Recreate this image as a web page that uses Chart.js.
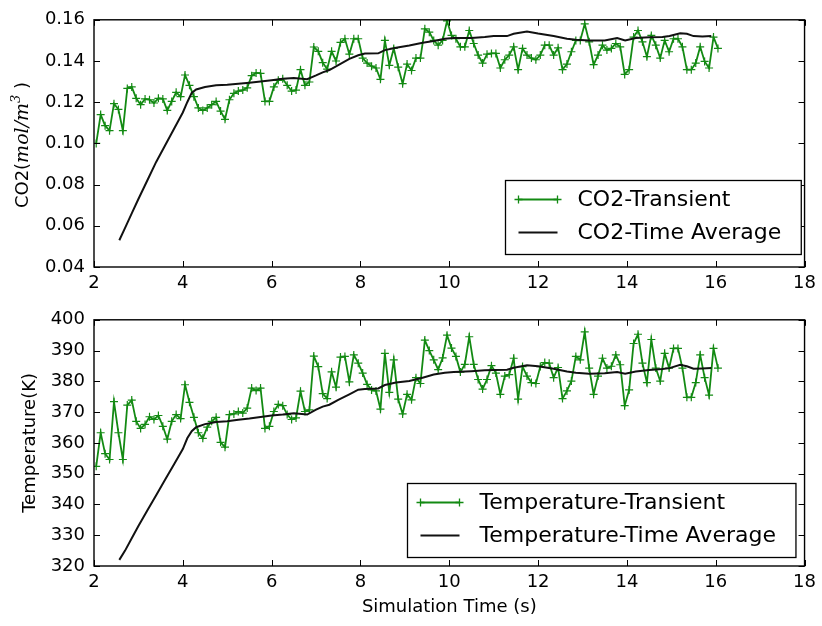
<!DOCTYPE html>
<html>
<head>
<meta charset="utf-8">
<script src="https://cdn.jsdelivr.net/npm/chart.js@4.4.1/dist/chart.umd.min.js"></script>
<style>
  html, body { margin: 0; padding: 0; background: #fff; }
  #wrap { position: relative; width: 822px; height: 626px; }
  canvas { position: absolute; left: 0; }
  #co2Chart  { top: 0; }
  #tempChart { top: 300px; }
</style>
</head>
<body>
<div id="wrap">
  <canvas id="co2Chart" width="822" height="300"></canvas>
  <canvas id="tempChart" width="822" height="326"></canvas>
</div>
<script>
// ── Data ─────────────────────────────────────────────────────
const times = [
  2.05, 2.15, 2.25, 2.35, 2.45, 2.55, 2.65, 2.75, 2.85, 2.95,
  3.05, 3.15, 3.25, 3.35, 3.45, 3.55, 3.65, 3.75, 3.85, 3.95,
  4.05, 4.15, 4.25, 4.35, 4.45, 4.55, 4.65, 4.75, 4.85, 4.95,
  5.05, 5.15, 5.25, 5.35, 5.45, 5.55, 5.65, 5.75, 5.85, 5.95,
  6.05, 6.15, 6.25, 6.35, 6.45, 6.55, 6.65, 6.75, 6.85, 6.95,
  7.05, 7.15, 7.25, 7.35, 7.45, 7.55, 7.65, 7.75, 7.85, 7.95,
  8.05, 8.15, 8.25, 8.35, 8.45, 8.55, 8.65, 8.75, 8.85, 8.95,
  9.05, 9.15, 9.25, 9.35, 9.45, 9.55, 9.65, 9.75, 9.85, 9.95,
  10.05, 10.15, 10.25, 10.35, 10.45, 10.55, 10.65, 10.75, 10.85, 10.95,
  11.05, 11.15, 11.25, 11.35, 11.45, 11.55, 11.65, 11.75, 11.85, 11.95,
  12.05, 12.15, 12.25, 12.35, 12.45, 12.55, 12.65, 12.75, 12.85, 12.95,
  13.05, 13.15, 13.25, 13.35, 13.45, 13.55, 13.65, 13.75, 13.85, 13.95,
  14.05, 14.15, 14.25, 14.35, 14.45, 14.55, 14.65, 14.75, 14.85, 14.95,
  15.05, 15.15, 15.25, 15.35, 15.45, 15.55, 15.65, 15.75, 15.85, 15.95,
  16.05
];

const co2Transient = [
  0.1000, 0.1140, 0.1086, 0.1062, 0.1193, 0.1165, 0.1062, 0.1267, 0.1274, 0.1219,
  0.1188, 0.1216, 0.1212, 0.1196, 0.1219, 0.1216, 0.1160, 0.1204, 0.1248, 0.1227,
  0.1332, 0.1282, 0.1227, 0.1172, 0.1160, 0.1172, 0.1188, 0.1204, 0.1157, 0.1117,
  0.1212, 0.1243, 0.1254, 0.1259, 0.1270, 0.1329, 0.1342, 0.1340, 0.1204, 0.1204,
  0.1274, 0.1306, 0.1314, 0.1282, 0.1254, 0.1259, 0.1358, 0.1282, 0.1298, 0.1468,
  0.1447, 0.1392, 0.1361, 0.1447, 0.1400, 0.1490,
  0.1508, 0.1433, 0.1508, 0.1508, 0.1414, 0.1390, 0.1375, 0.1366, 0.1311, 0.1500,
  0.1379, 0.1461, 0.1370, 0.1290, 0.1385, 0.1354, 0.1414, 0.1414, 0.1556, 0.1540,
  0.1500, 0.1477, 0.1500, 0.1595, 0.1524, 0.1508, 0.1469, 0.1469, 0.1548, 0.1485,
  0.1429, 0.1390, 0.1433, 0.1437, 0.1437, 0.1366, 0.1406, 0.1429, 0.1469, 0.1358,
  0.1461, 0.1429, 0.1414, 0.1406, 0.1429, 0.1477, 0.1477, 0.1429, 0.1464, 0.1358,
  0.1385, 0.1445, 0.1500,
  0.1500, 0.1580, 0.1493, 0.1382, 0.1429, 0.1477, 0.1453, 0.1461, 0.1485, 0.1469,
  0.1335, 0.1358, 0.1516, 0.1548, 0.1493, 0.1421, 0.1524, 0.1477, 0.1414, 0.1500,
  0.1445, 0.1508, 0.1508, 0.1469, 0.1358, 0.1358, 0.1390, 0.1469, 0.1398, 0.1366,
  0.1516, 0.1461
];

const tempTransient = [
  352.4, 363.3, 356.5, 354.6, 373.4, 363.3, 354.6, 372.3, 373.9, 367.0,
  364.7, 366.0, 368.5, 367.6, 368.9, 365.4, 361.2, 367.0, 369.2, 367.9,
  378.9, 373.2, 368.3, 363.3, 361.5, 365.1, 367.0, 368.3, 360.2, 358.6,
  369.2, 369.4, 370.2, 369.7, 371.3, 377.8, 377.0, 377.8, 364.7, 365.4,
  370.2, 372.5, 372.1, 369.2, 367.6, 368.1, 376.8, 370.2, 370.7, 388.2,
  384.8, 376.0, 374.4, 383.1, 378.1, 387.9,
  388.1, 379.8, 388.6, 385.9, 382.7, 379.0, 377.2, 376.9, 371.0, 389.1,
  376.4, 387.0, 374.2, 369.4, 375.8, 374.0, 381.2, 379.3, 393.4, 390.0,
  387.0, 383.8, 387.6, 395.0, 390.8, 388.1, 383.0, 385.5, 394.5, 385.5,
  380.6, 377.5, 380.6, 385.1, 382.7, 375.8, 381.7, 382.2, 387.5, 374.2,
  384.8, 381.7, 379.6, 379.3, 384.8, 386.1, 385.9, 381.2, 384.5, 374.4,
  376.9, 380.1, 388.1,
  387.0, 396.1, 384.3, 375.8, 381.7, 387.5, 384.3, 384.9, 388.6, 385.4,
  372.1, 377.2, 392.3, 395.3, 385.9, 379.6, 393.6, 384.3, 380.1, 389.1,
  384.3, 390.7, 390.7, 384.3, 374.8, 374.8, 379.6, 388.6, 381.2, 375.5,
  390.7, 384.3
];

const avgTimes = [
  2.57, 2.7, 2.85, 3.0, 3.2, 3.4, 3.6, 3.8, 4.0, 4.1,
  4.2, 4.3, 4.5, 4.75, 5.0, 5.25, 5.5, 5.75, 6.0, 6.25,
  6.5, 6.8, 7.0, 7.15, 7.3, 7.5, 7.75, 7.95, 8.1, 8.4,
  8.55, 8.8, 9.1, 9.4, 9.65, 9.9, 10.1, 10.5, 10.8, 11.0,
  11.3, 11.45, 11.75, 12.0, 12.35, 12.65, 12.85, 13.15, 13.5, 13.78,
  13.96, 14.2, 14.5, 14.8, 14.96, 15.2, 15.35, 15.5, 15.7, 15.9
];

const co2Average = [
  0.0530, 0.0590, 0.0660, 0.0730, 0.0820, 0.0910, 0.0990, 0.1070, 0.1150, 0.1200,
  0.1245, 0.1262, 0.1274, 0.1282, 0.1285, 0.1290, 0.1295, 0.1301, 0.1307, 0.1314,
  0.1317, 0.1312, 0.1330, 0.1345, 0.1356, 0.1380, 0.1410, 0.1428, 0.1436, 0.1437,
  0.1453, 0.1464, 0.1475, 0.1489, 0.1497, 0.1508, 0.1512, 0.1512, 0.1516, 0.1521,
  0.1521, 0.1532, 0.1543, 0.1533, 0.1521, 0.1508, 0.1503, 0.1500, 0.1500, 0.1512,
  0.1500, 0.1512, 0.1515, 0.1516, 0.1521, 0.1535, 0.1532, 0.1521, 0.1519, 0.1521
];

const tempAverage = [
  322.0, 325.0, 329.0, 333.0, 338.0, 343.0, 348.0, 353.0, 358.0, 361.5,
  363.8, 365.1, 366.1, 366.8, 367.0, 367.5, 367.9, 368.4, 368.9, 369.2,
  369.6, 369.2, 370.8, 371.8, 372.4, 374.0, 375.8, 377.3, 377.5, 377.7,
  378.8, 379.6, 380.1, 381.2, 382.2, 382.8, 383.0, 383.3, 383.6, 383.7,
  383.8, 384.4, 385.2, 384.9, 384.1, 383.2, 382.8, 382.5, 382.6, 383.0,
  382.5, 383.2, 383.7, 384.0, 384.3, 385.4, 384.9, 384.1, 384.2, 384.3
];

const xTicks    = [2, 4, 6, 8, 10, 12, 14, 16, 18];
const co2Ticks  = [0.04, 0.06, 0.08, 0.10, 0.12, 0.14, 0.16];
const tempTicks = [320, 330, 340, 350, 360, 370, 380, 390, 400];

// ── Styling ──────────────────────────────────────────────────
const GREEN     = '#138a13';
const BLACK     = '#111';
const FONT      = '"DejaVu Sans", sans-serif';
const TICK_LEN  = 6;

const toXY = (xs, ys) => xs.map((x, i) => ({ x, y: ys[i] }));

// Matplotlib-style frame with inward ticks on all four sides
const frameTicks = {
  id: 'frameTicks',
  afterDatasetsDraw(chart) {
    const { ctx, chartArea: a, scales } = chart;
    ctx.save();
    ctx.strokeStyle = '#000';
    ctx.lineWidth = 1;
    ctx.beginPath();
    scales.x.ticks.forEach(t => {
      const px = Math.round(scales.x.getPixelForValue(t.value)) + 0.5;
      ctx.moveTo(px, a.bottom); ctx.lineTo(px, a.bottom - TICK_LEN);
      ctx.moveTo(px, a.top);    ctx.lineTo(px, a.top + TICK_LEN);
    });
    scales.y.ticks.forEach(t => {
      const py = Math.round(scales.y.getPixelForValue(t.value)) + 0.5;
      ctx.moveTo(a.left, py);  ctx.lineTo(a.left + TICK_LEN, py);
      ctx.moveTo(a.right, py); ctx.lineTo(a.right - TICK_LEN, py);
    });
    ctx.stroke();
    ctx.lineWidth = 1.4;
    ctx.strokeRect(a.left, a.top, a.right - a.left, a.bottom - a.top);
    ctx.restore();
  }
};

function drawCross(ctx, x, y, r) {
  ctx.beginPath();
  ctx.moveTo(x - r, y); ctx.lineTo(x + r, y);
  ctx.moveTo(x, y - r); ctx.lineTo(x, y + r);
  ctx.stroke();
}

// Boxed legend in the lower right corner of the plot area
const boxLegend = {
  id: 'boxLegend',
  afterDraw(chart, args, opts) {
    const { ctx, chartArea: a } = chart;
    ctx.save();
    ctx.font = '22px ' + FONT;
    const textW = Math.max(...opts.items.map(it => ctx.measureText(it.text).width));
    const w = 72 + textW + 20;
    const h = 74;
    const right  = a.right - opts.insetRight;
    const bottom = a.bottom - opts.insetBottom;
    const left = Math.round(right - w) + 0.5;
    const top  = Math.round(bottom - h) + 0.5;

    ctx.fillStyle = '#fff';
    ctx.fillRect(left, top, w, h);
    ctx.strokeStyle = '#000';
    ctx.lineWidth = 1.3;
    ctx.strokeRect(left, top, w, h);

    opts.items.forEach((it, i) => {
      const y = top + 19 + i * 33;
      ctx.strokeStyle = it.color;
      ctx.lineWidth = it.width;
      ctx.beginPath();
      ctx.moveTo(left + 13, y); ctx.lineTo(left + 52, y);
      ctx.stroke();
      if (it.marker) {
        ctx.lineWidth = 1.3;
        drawCross(ctx, left + 13, y, 4);
        drawCross(ctx, left + 52, y, 4);
      }
      ctx.fillStyle = '#000';
      ctx.textBaseline = 'middle';
      ctx.textAlign = 'left';
      ctx.fillText(it.text, left + 72, y + 1);
    });
    ctx.restore();
  }
};

// Rotated y label with mathtext-like units: CO2(mol/m^3 )
const co2Label = {
  id: 'co2Label',
  afterDraw(chart) {
    const { ctx } = chart;
    const parts = [
      { t: 'CO2(',  f: '18px ' + FONT,                 dy: 0 },
      { t: 'mol/m', f: 'italic 19px "DejaVu Serif"',   dy: 0 },
      { t: '3',     f: 'italic 13px "DejaVu Serif"',   dy: -8 },
      { t: ' )',    f: '18px ' + FONT,                 dy: 0 }
    ];
    ctx.save();
    ctx.translate(22, 145);
    ctx.rotate(-Math.PI / 2);
    ctx.fillStyle = '#000';
    ctx.textBaseline = 'alphabetic';
    let total = 0;
    parts.forEach(p => { ctx.font = p.f; p.w = ctx.measureText(p.t).width; total += p.w; });
    let x = -total / 2;
    parts.forEach(p => {
      ctx.font = p.f;
      ctx.fillText(p.t, x, 6 + p.dy);
      x += p.w;
    });
    ctx.restore();
  }
};

function makeOptions(cfg) {
  return {
    responsive: false,
    animation: false,
    layout: { padding: { top: cfg.padTop, right: 14, left: 0, bottom: 0 } },
    plugins: {
      legend:  { display: false },
      tooltip: { enabled: false },
      boxLegend: { items: cfg.legend, insetRight: cfg.insetRight, insetBottom: cfg.insetBottom }
    },
    scales: {
      x: {
        type: 'linear', min: 2, max: 18,
        afterBuildTicks: s => { s.ticks = xTicks.map(v => ({ value: v })); },
        afterFit: s => { s.height = cfg.xHeight; },
        grid:   { display: false, drawTicks: false },
        border: { display: false },
        ticks:  { color: '#000', font: { family: FONT, size: 18 }, padding: 6,
                  maxRotation: 0, callback: v => String(v) },
        title:  cfg.xTitle
      },
      y: {
        min: cfg.yTicks[0], max: cfg.yTicks[cfg.yTicks.length - 1],
        afterBuildTicks: s => { s.ticks = cfg.yTicks.map(v => ({ value: v })); },
        afterFit: s => { s.width = 94; },
        grid:   { display: false, drawTicks: false },
        border: { display: false },
        ticks:  { color: '#000', font: { family: FONT, size: 18 }, padding: 9,
                  callback: cfg.yFormat },
        title:  cfg.yTitle
      }
    }
  };
}

// ── CO2 panel ────────────────────────────────────────────────
new Chart(document.getElementById('co2Chart'), {
  type: 'line',
  data: {
    datasets: [
      {
        label: 'CO2-Time Average',
        data: toXY(avgTimes, co2Average),
        borderColor: BLACK, borderWidth: 2, pointRadius: 0, tension: 0
      },
      {
        label: 'CO2-Transient',
        data: toXY(times, co2Transient),
        borderColor: GREEN, borderWidth: 1.8, tension: 0,
        pointStyle: 'cross', pointRadius: 4, pointBorderWidth: 1.2,
        pointBorderColor: GREEN
      }
    ]
  },
  options: makeOptions({
    padTop: 14, xHeight: 33, yTicks: co2Ticks,
    yFormat: v => v.toFixed(2),
    insetRight: 4, insetBottom: 13,
    xTitle: { display: false },
    yTitle: { display: false },
    legend: [
      { text: 'CO2-Transient',    color: GREEN, width: 1.8, marker: true },
      { text: 'CO2-Time Average', color: BLACK, width: 2,   marker: false }
    ]
  }),
  plugins: [frameTicks, boxLegend, co2Label]
});

// ── Temperature panel ────────────────────────────────────────
new Chart(document.getElementById('tempChart'), {
  type: 'line',
  data: {
    datasets: [
      {
        label: 'Temperature-Time Average',
        data: toXY(avgTimes, tempAverage),
        borderColor: BLACK, borderWidth: 2, pointRadius: 0, tension: 0
      },
      {
        label: 'Temperature-Transient',
        data: toXY(times, tempTransient),
        borderColor: GREEN, borderWidth: 1.8, tension: 0,
        pointStyle: 'cross', pointRadius: 4, pointBorderWidth: 1.2,
        pointBorderColor: GREEN
      }
    ]
  },
  options: makeOptions({
    padTop: 16, xHeight: 60, yTicks: tempTicks,
    yFormat: v => String(v),
    insetRight: 9, insetBottom: 9,
    xTitle: { display: true, text: 'Simulation Time (s)', color: '#000',
              font: { family: FONT, size: 18 }, padding: { top: 0, bottom: 8 } },
    yTitle: { display: true, text: 'Temperature(K)', color: '#000',
              font: { family: FONT, size: 18 }, padding: { top: 20, bottom: 0 } },
    legend: [
      { text: 'Temperature-Transient',    color: GREEN, width: 1.8, marker: true },
      { text: 'Temperature-Time Average', color: BLACK, width: 2,   marker: false }
    ]
  }),
  plugins: [frameTicks, boxLegend]
});
</script>
</body>
</html>
